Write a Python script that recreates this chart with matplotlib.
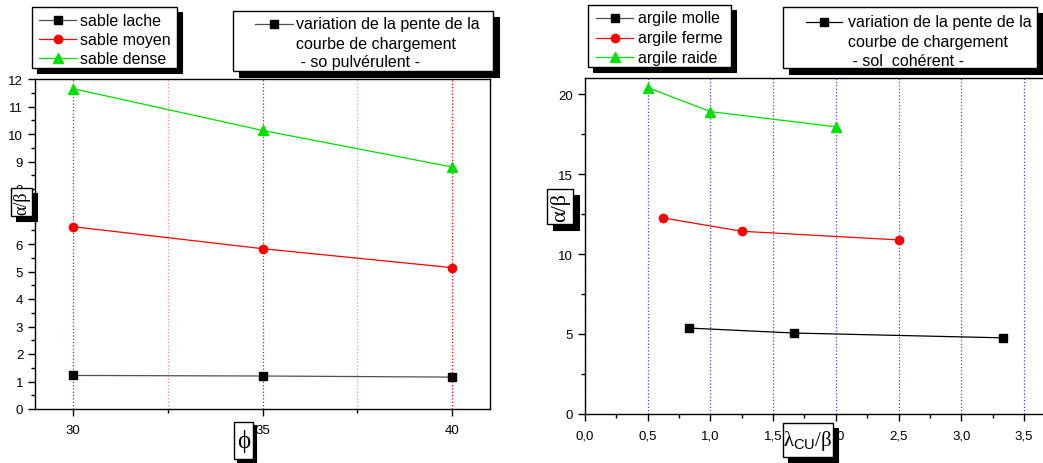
import numpy as np
import matplotlib.pyplot as plt
from matplotlib.patches import Rectangle
from matplotlib.lines import Line2D
from matplotlib.ticker import MultipleLocator, FixedLocator, FuncFormatter

plt.rcParams['font.family'] = ['Liberation Sans', 'DejaVu Sans']
plt.rcParams['mathtext.fontset'] = 'custom'
plt.rcParams['mathtext.rm'] = 'Liberation Serif'
plt.rcParams['mathtext.it'] = 'Liberation Serif:italic'
plt.rcParams['mathtext.sf'] = 'Liberation Sans'

W, H = 1043, 464

# --- data: sol pulvérulent ---
phi = [30, 35, 40]
sable_lache = [1.22, 1.20, 1.16]
sable_moyen = [6.63, 5.83, 5.14]
sable_dense = [11.65, 10.13, 8.80]

# --- data: sol cohérent ---
lam_molle = [0.833, 1.667, 3.333]
argile_molle = [5.37, 5.06, 4.76]
lam_ferme = [0.625, 1.25, 2.5]
argile_ferme = [12.25, 11.42, 10.88]
lam_raide = [0.5, 1.0, 2.0]
argile_raide = [20.4, 18.9, 17.95]

names_left = ['sable lache', 'sable moyen', 'sable dense']
names_right = ['argile molle', 'argile ferme', 'argile raide']

styles = [
    dict(color='#505050', marker='s', mfc='black', mec='black', ms=5.5),
    dict(color='red', marker='o', mfc='red', mec='red', ms=6),
    dict(color='#00e000', marker='^', mfc='#00e000', mec='#00e000', ms=6.5),
]

fig = plt.figure(figsize=(W / 100, H / 100), dpi=100)


def fx(x):
    return x / W


def fy(y):
    return 1 - y / H


def axes_px(x0, y0, x1, y1):
    return fig.add_axes([fx(x0), fy(y1), (x1 - x0) / W, (y1 - y0) / H])


def shadow_box(x0, y0, x1, y1, sh=5, z=10):
    fig.add_artist(Rectangle((fx(x0 + sh), fy(y1 + sh)), (x1 - x0) / W, (y1 - y0) / H,
                             transform=fig.transFigure, fc='black', ec='black', lw=0.8, zorder=z))
    fig.add_artist(Rectangle((fx(x0), fy(y1)), (x1 - x0) / W, (y1 - y0) / H,
                             transform=fig.transFigure, fc='white', ec='black', lw=1, zorder=z + 1))


def handle(x0, x1, y, st, z=12):
    fig.add_artist(Line2D([fx(x0), fx(x1)], [fy(y), fy(y)], transform=fig.transFigure,
                          color=st['color'], lw=0.9, zorder=z))
    fig.add_artist(Line2D([fx((x0 + x1) / 2)], [fy(y)], transform=fig.transFigure, ls='none',
                          marker=st['marker'], mfc=st['mfc'], mec=st['mec'], ms=st['ms'], zorder=z + 1))


def style_axes(ax):
    ax.tick_params(which='both', direction='out', top=False, right=False, labelsize=9.5, width=1)
    ax.tick_params(which='major', length=5)
    ax.tick_params(which='minor', length=3)
    for s in ax.spines.values():
        s.set_linewidth(1)


# ---------------- left panel ----------------
ax1 = axes_px(35, 80, 490, 410)
for xs, st in zip([sable_lache, sable_moyen, sable_dense], styles):
    ax1.plot(phi, xs, color=st['color'], lw=0.9, marker=st['marker'], mfc=st['mfc'],
             mec=st['mec'], ms=st['ms'], zorder=3)
ax1.set_xlim(29, 41)
ax1.set_ylim(0, 12)
ax1.xaxis.set_major_locator(FixedLocator([30, 35, 40]))
ax1.xaxis.set_minor_locator(FixedLocator([32.5, 37.5]))
ax1.yaxis.set_major_locator(MultipleLocator(1))
ax1.yaxis.set_minor_locator(MultipleLocator(0.5))
ax1.grid(True, which='major', axis='x', color='red', ls=':', lw=0.9)
ax1.grid(True, which='minor', axis='x', color='#ff9090', ls=':', lw=0.9)
style_axes(ax1)
ax1.tick_params(axis='x', pad=6)

# ---------------- right panel ----------------
ax2 = axes_px(585, 79, 1043, 415)
for xv, yv, st in zip([lam_molle, lam_ferme, lam_raide],
                      [argile_molle, argile_ferme, argile_raide], styles):
    c = 'black' if st['marker'] == 's' else st['color']
    ax2.plot(xv, yv, color=c, lw=0.9, marker=st['marker'], mfc=st['mfc'],
             mec=st['mec'], ms=st['ms'], zorder=3)
ax2.set_xlim(0, (1043 - 585) / 125.4)
ax2.set_ylim(0, 21)
ax2.xaxis.set_major_locator(MultipleLocator(0.5))
ax2.xaxis.set_minor_locator(MultipleLocator(0.25))
ax2.yaxis.set_major_locator(MultipleLocator(5))
ax2.yaxis.set_minor_locator(MultipleLocator(2.5))
ax2.xaxis.set_major_formatter(FuncFormatter(lambda v, p: f"{v:.1f}".replace('.', ',')))
ax2.grid(True, which='major', axis='x', color='#4040ff', ls=':', lw=0.9)
ax2.spines['right'].set_visible(False)
style_axes(ax2)
ax2.tick_params(axis='x', pad=6)

# ---------------- legends ----------------
shadow_box(32, 8, 177, 69)
for i, (nm, st) in enumerate(zip(names_left, styles)):
    y = 21 + i * 19
    handle(39, 76, y, st)
    fig.text(fx(80), fy(y), nm, fontsize=11.5, va='center', ha='left', zorder=13)

shadow_box(233, 12, 493, 72, sh=6)
handle(255, 293, 25, styles[0])
for j, ln in enumerate(['variation de la pente de la', 'courbe de chargement', ' - so pulvérulent -']):
    fig.text(fx(296), fy(25 + j * 19), ln, fontsize=11.5, va='center', ha='left', zorder=13)

shadow_box(588, 6, 731, 68)
for i, (nm, st) in enumerate(zip(names_right, styles)):
    y = 19 + i * 19.5
    handle(596, 633, y, st)
    fig.text(fx(638), fy(y), nm, fontsize=11.5, va='center', ha='left', zorder=13)

shadow_box(783, 8, 1037, 69, sh=6)
handle(806, 842, 23, dict(styles[0], color='black'))
for j, ln in enumerate(['variation de la pente de la', 'courbe de chargement', ' - sol  cohérent -']):
    fig.text(fx(848), fy(23 + j * 19.5), ln, fontsize=11.5, va='center', ha='left', zorder=13)

# ---------------- axis label boxes ----------------
serif = ['Liberation Serif', 'DejaVu Serif']

shadow_box(11, 189, 32, 217, sh=5)
fig.text(fx(21.5), fy(203), 'α/β', rotation=90, fontsize=13, family=serif,
         ha='center', va='center', zorder=13)

shadow_box(547, 190, 573, 225, sh=6)
fig.text(fx(560), fy(207.5), 'α/β', rotation=90, fontsize=16, family=serif,
         ha='center', va='center', zorder=13)

shadow_box(234, 423, 253, 460, sh=3)
fig.text(fx(243.5), fy(442), 'ϕ', fontsize=18, family=serif,
         ha='center', va='center', zorder=13)

shadow_box(783, 424, 833, 458, sh=5)
fig.text(fx(808), fy(441), r'$\mathrm{\lambda}_{\mathsf{CU}}/\mathrm{\beta}$', fontsize=15,
         ha='center', va='center', zorder=13)

fig.savefig('out.png', dpi=100)
